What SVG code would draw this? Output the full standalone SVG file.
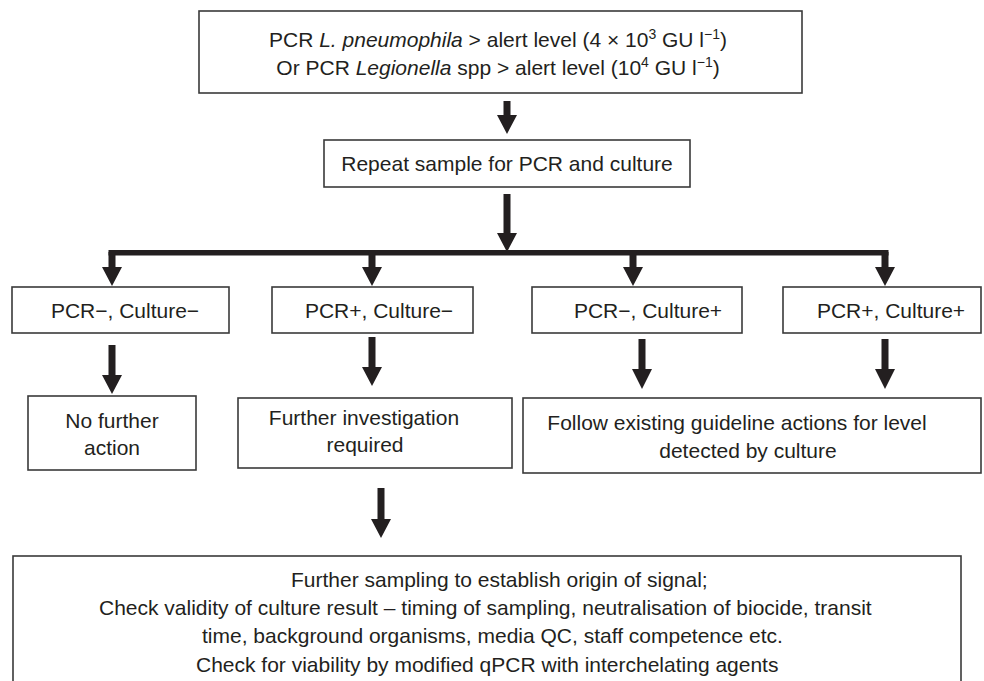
<svg xmlns="http://www.w3.org/2000/svg" width="984" height="681" viewBox="0 0 984 681">
<style>
.box{fill:#fff;stroke:#3a3a3a;stroke-width:1.6}
text{font-family:"Liberation Sans",Arial,sans-serif;font-size:21px;fill:#231f20}
.c{text-anchor:middle}
.arr{fill:#231f20}
.it{font-style:italic}
</style>
<rect width="984" height="681" fill="#fff"/>
<g id="connectors">
<polygon class="arr" points="503.5,101 510.5,101 510.5,115 517,115 507,134 497,115 503.5,115"/>
<polygon class="arr" points="503.5,194 510.5,194 510.5,233 517,233 507,252 497,233 503.5,233"/>
<rect class="arr" x="108.5" y="250" width="780" height="5.5"/>
<polygon class="arr" points="108.5,252 115.5,252 115.5,267 122,267 112,286 102,267 108.5,267"/>
<polygon class="arr" points="368.5,252 375.5,252 375.5,267 382,267 372,286 362,267 368.5,267"/>
<polygon class="arr" points="629.5,252 636.5,252 636.5,267 643,267 633,286 623,267 629.5,267"/>
<polygon class="arr" points="881.5,252 888.5,252 888.5,267 895,267 885,286 875,267 881.5,267"/>
<polygon class="arr" points="108.5,345 115.5,345 115.5,375 122,375 112,394 102,375 108.5,375"/>
<polygon class="arr" points="368.5,337 375.5,337 375.5,367 382,367 372,386 362,367 368.5,367"/>
<polygon class="arr" points="638.5,339 645.5,339 645.5,369 652,369 642,389 632,369 638.5,369"/>
<polygon class="arr" points="881.5,339 888.5,339 888.5,369 895,369 885,389 875,369 881.5,369"/>
<polygon class="arr" points="377.5,488 384.5,488 384.5,519 391,519 381,538 371,519 377.5,519"/>
</g>
<g id="n-top">
<rect class="box" x="199" y="11" width="603" height="82"/>
<text class="c" x="498" y="47">PCR <tspan class="it">L. pneumophila</tspan> &gt; alert level (4 × 10<tspan font-size="14" dy="-8">3</tspan><tspan dy="8"> GU l</tspan><tspan font-size="14" dy="-8">−1</tspan><tspan dy="8">)</tspan></text>
<text class="c" x="498" y="75">Or PCR <tspan class="it">Legionella</tspan> spp &gt; alert level (10<tspan font-size="14" dy="-8">4</tspan><tspan dy="8"> GU l</tspan><tspan font-size="14" dy="-8">−1</tspan><tspan dy="8">)</tspan></text>
</g>
<g id="n-repeat">
<rect class="box" x="324" y="140" width="366" height="47"/>
<text class="c" x="507" y="171">Repeat sample for PCR and culture</text>
</g>
<g id="n-pm-cm">
<rect class="box" x="12" y="287" width="217" height="46"/>
<text class="c" x="125" y="318">PCR−, Culture−</text>
</g>
<g id="n-pp-cm">
<rect class="box" x="272" y="287" width="201" height="46"/>
<text class="c" x="379" y="318">PCR+, Culture−</text>
</g>
<g id="n-pm-cp">
<rect class="box" x="532" y="287" width="210" height="46"/>
<text class="c" x="648" y="318">PCR−, Culture+</text>
</g>
<g id="n-pp-cp">
<rect class="box" x="783" y="287" width="198" height="46"/>
<text class="c" x="891" y="318">PCR+, Culture+</text>
</g>
<g id="n-nofurther">
<rect class="box" x="28" y="396" width="168" height="74"/>
<text class="c" x="112" y="428">No further</text>
<text class="c" x="112" y="455">action</text>
</g>
<g id="n-investigation">
<rect class="box" x="238" y="398" width="274" height="70"/>
<text class="c" x="364" y="425">Further investigation</text>
<text class="c" x="365" y="452">required</text>
</g>
<g id="n-follow">
<rect class="box" x="523" y="398" width="458" height="75"/>
<text class="c" x="737" y="430">Follow existing guideline actions for level</text>
<text class="c" x="748" y="458">detected by culture</text>
</g>
<g id="n-sampling">
<rect class="box" x="13" y="556" width="948" height="140"/>
<text x="291" y="587">Further sampling to establish origin of signal;</text>
<text x="99" y="615">Check validity of culture result – timing of sampling, neutralisation of biocide, transit</text>
<text x="202" y="643">time, background organisms, media QC, staff competence etc.</text>
<text x="196" y="672">Check for viability by modified qPCR with interchelating agents</text>
</g>
</svg>
